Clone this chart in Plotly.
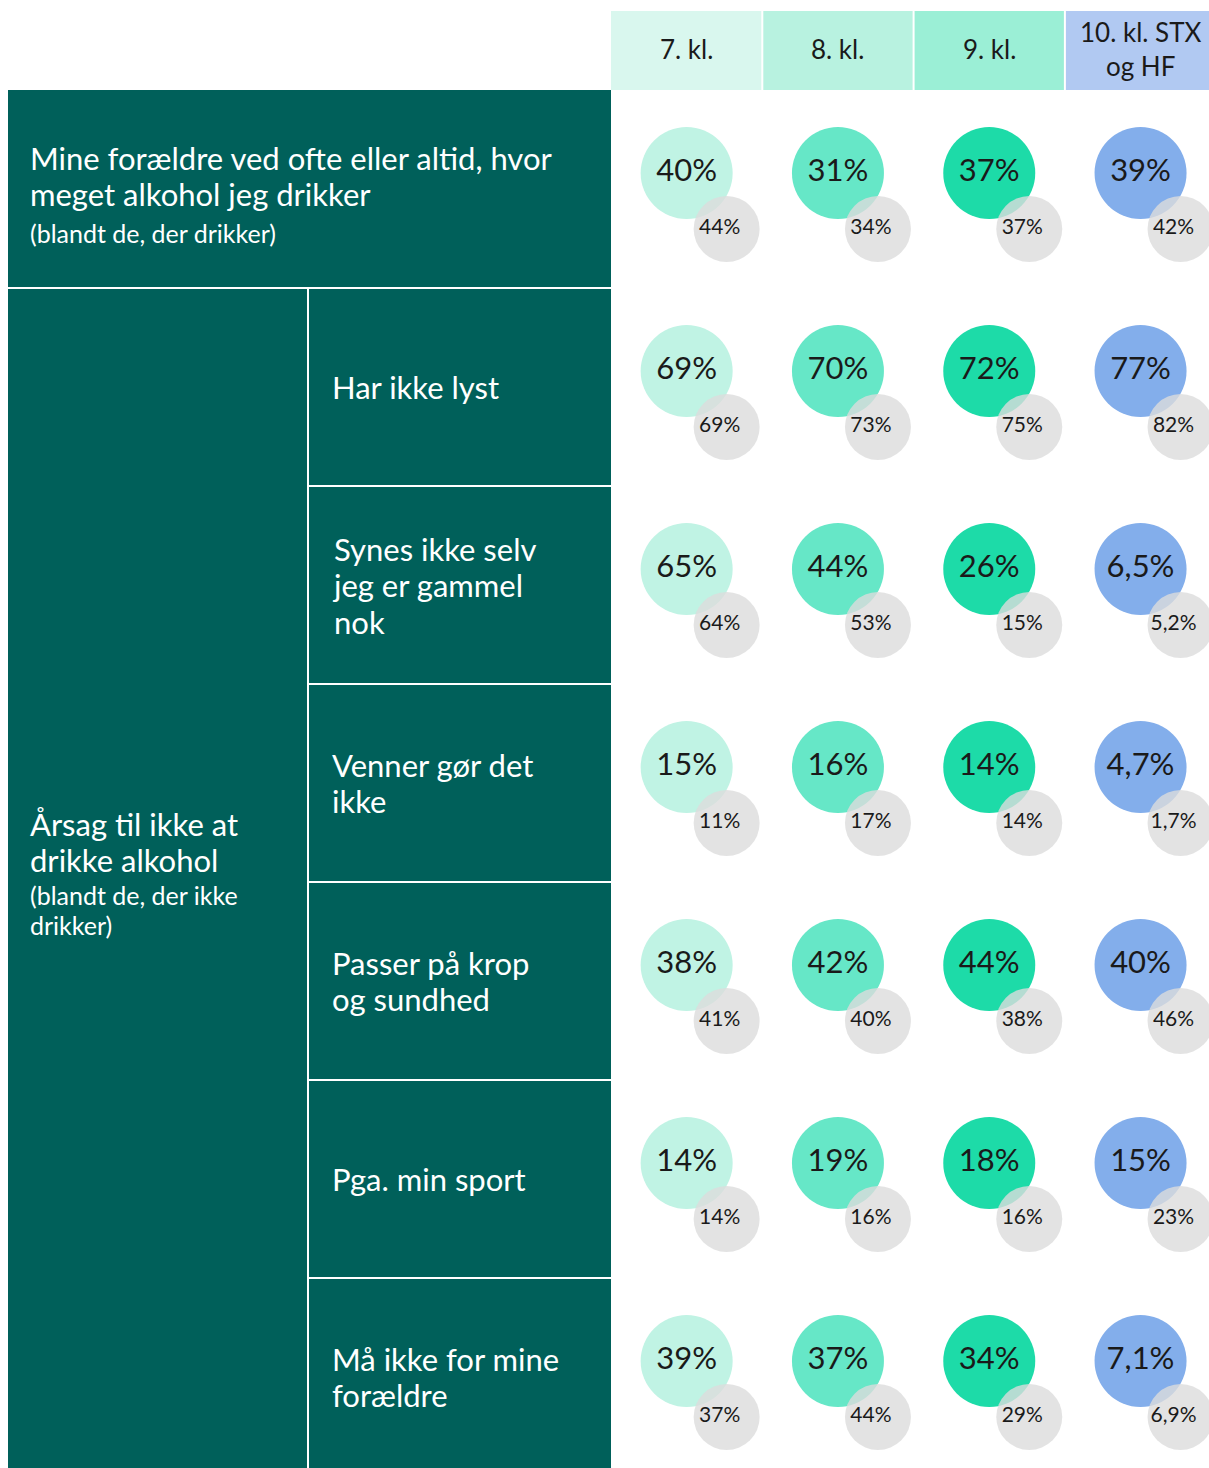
import plotly.graph_objects as go

# ---------------- data ----------------
grades = ["7. kl.", "8. kl.", "9. kl.", "10. kl. STX<br>og HF"]

row_titles = [
    "Mine forældre ved ofte eller altid, hvor<br>meget alkohol jeg drikker",
    "Har ikke lyst",
    "Synes ikke selv<br>jeg er gammel<br>nok",
    "Venner gør det<br>ikke",
    "Passer på krop<br>og sundhed",
    "Pga. min sport",
    "Må ikke for mine<br>forældre",
]
row1_subtitle = "(blandt de, der drikker)"
group_title = "Årsag til ikke at<br>drikke alkohol"
group_subtitle = "(blandt de, der ikke<br>drikker)"

# main values (large coloured bubbles), one list per row, columns = grades
val_main = [
    [40, 31, 37, 39],
    [69, 70, 72, 77],
    [65, 44, 26, 6.5],
    [15, 16, 14, 4.7],
    [38, 42, 44, 40],
    [14, 19, 18, 15],
    [39, 37, 34, 7.1],
]
# comparison values (small grey bubbles)
val_comp = [
    [44, 34, 37, 42],
    [69, 73, 75, 82],
    [64, 53, 15, 5.2],
    [11, 17, 14, 1.7],
    [41, 40, 38, 46],
    [14, 16, 16, 23],
    [37, 44, 29, 6.9],
]

# ---------------- style ----------------
W, H = 1209, 1468
DARK = "#00605A"
HEADER_COLORS = ["#D9F7EE", "#B8F2E0", "#9BEFD6", "#B1C9F2"]
BUBBLE_COLORS = ["#C0F3E4", "#66E7C7", "#1DDBA8", "#83AEEB"]
GREY = "#DCDCDC"
FONT = "Lato"
LFONT = "Lato"
TXT = "#1a1a1a"

COL0, COLW = 611, 151.3
ROW0, ROWH = 90, 198
HEAD_Y0, HEAD_Y1 = 11, 90
LEFT_X0, SPLIT_X = 8, 308
BIG_D, SMALL_D = 92, 66
BIG_DY = -16
SMALL_DX, SMALL_DY = 40, 56
SMALL_LABEL_DX = -7

TITLE_SIZE, TITLE_BASE = 31, 28   # base size sets line spacing (1.3 x base)
SUB_SIZE, SUB_BASE = 25, 23


def fmt(v):
    if v < 10:
        return f"{v:.1f}".replace(".", ",") + "%"
    return f"{v:.0f}%"


def col_center(i):
    return COL0 + COLW * (i + 0.5)


def row_center(k):
    return ROW0 + ROWH * (k + 0.5)


def sized(text, size):
    return "<br>".join(f"<span style='font-size:{size}px'>{ln}</span>"
                       for ln in text.split("<br>"))


fig = go.Figure()

shapes = []
# header cells
for i in range(len(grades)):
    shapes.append(dict(
        type="rect", layer="below", line_width=0, fillcolor=HEADER_COLORS[i],
        x0=COL0 + i * COLW + (1 if i > 0 else 0), x1=COL0 + (i + 1) * COLW - 1,
        y0=HEAD_Y0, y1=HEAD_Y1))
# dark left panel
shapes.append(dict(type="rect", layer="below", line_width=0, fillcolor=DARK,
                   x0=LEFT_X0, x1=COL0, y0=ROW0, y1=H + 10))
# white separators
shapes.append(dict(type="line", layer="below", line=dict(color="white", width=2),
                   x0=LEFT_X0, x1=COL0, y0=ROW0 + ROWH, y1=ROW0 + ROWH))
shapes.append(dict(type="line", layer="below", line=dict(color="white", width=2),
                   x0=SPLIT_X, x1=SPLIT_X, y0=ROW0 + ROWH, y1=H + 10))
for k in range(2, len(row_titles)):
    y = ROW0 + ROWH * k
    shapes.append(dict(type="line", layer="below", line=dict(color="white", width=2),
                       x0=SPLIT_X, x1=COL0, y0=y, y1=y))

# bubbles
for i in range(len(grades)):
    xs = [col_center(i)] * len(val_main)
    ys = [row_center(k) + BIG_DY for k in range(len(val_main))]
    fig.add_trace(go.Scatter(
        x=xs, y=ys, mode="markers", hoverinfo="skip",
        marker=dict(size=BIG_D, color=BUBBLE_COLORS[i], line=dict(width=0), opacity=1)))
for i in range(len(grades)):
    xs = [col_center(i) + SMALL_DX] * len(val_comp)
    ys = [row_center(k) + BIG_DY + SMALL_DY for k in range(len(val_comp))]
    fig.add_trace(go.Scatter(
        x=xs, y=ys, mode="markers", hoverinfo="skip",
        marker=dict(size=SMALL_D, color=GREY, line=dict(width=0), opacity=0.8)))
# labels
for i in range(len(grades)):
    fig.add_trace(go.Scatter(
        x=[col_center(i)] * len(val_main),
        y=[row_center(k) + BIG_DY for k in range(len(val_main))],
        mode="text", text=[fmt(r[i]) for r in val_main], hoverinfo="skip",
        textposition="middle center", textfont=dict(family=FONT, size=31, color=TXT)))
    fig.add_trace(go.Scatter(
        x=[col_center(i) + SMALL_DX + SMALL_LABEL_DX] * len(val_comp),
        y=[row_center(k) + BIG_DY + SMALL_DY for k in range(len(val_comp))],
        mode="text", text=[fmt(r[i]) for r in val_comp], hoverinfo="skip",
        textposition="middle center", textfont=dict(family=FONT, size=21, color=TXT)))

annotations = []
# header labels
for i, g in enumerate(grades):
    annotations.append(dict(x=col_center(i), y=(HEAD_Y0 + HEAD_Y1) / 2 - 2, text=g,
                            showarrow=False, xanchor="center", yanchor="middle",
                            font=dict(family=FONT, size=26, color=TXT)))


def add_label(x, y, text, base=TITLE_BASE):
    annotations.append(dict(x=x, y=y, text=text, showarrow=False,
                            xanchor="left", yanchor="middle", align="left",
                            font=dict(family=LFONT, size=base, color="white")))


TX0, TX1 = 28, 330
# row 1: title + subtitle in one block
add_label(TX0, row_center(0) + 4,
          sized(row_titles[0], TITLE_SIZE) + "<br>" + sized(row1_subtitle, SUB_SIZE))
# group label: title then subtitle block
add_label(TX0, 842, sized(group_title, TITLE_SIZE))
add_label(TX0, 910, sized(group_subtitle, SUB_SIZE), base=SUB_BASE)
# sub-row labels, vertically centred on the row
for k in range(1, len(row_titles)):
    add_label(TX1, row_center(k), sized(row_titles[k], TITLE_SIZE))

fig.update_layout(
    width=W, height=H, margin=dict(l=0, r=0, t=0, b=0),
    paper_bgcolor="white", plot_bgcolor="white", showlegend=False,
    shapes=shapes, annotations=annotations,
    xaxis=dict(range=[0, W], visible=False, fixedrange=True),
    yaxis=dict(range=[H, 0], visible=False, fixedrange=True),
)

fig.write_html(
    "out.html",
    config={"displayModeBar": False},
    post_script="document.body.style.margin='0';document.body.style.overflow='hidden';",
)
